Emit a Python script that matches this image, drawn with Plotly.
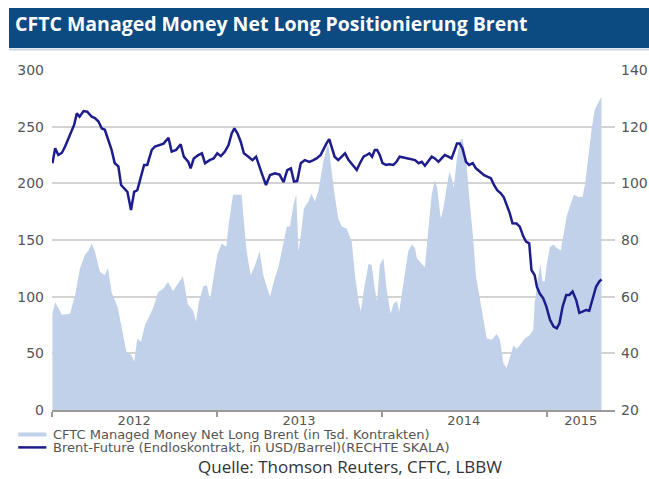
import plotly.graph_objects as go

# CFTC managed money net long Brent (thousand contracts), weekly
net_long_dates = [
    '2012-01-02', '2012-01-08', '2012-01-23', '2012-02-10', '2012-02-21', '2012-03-03', '2012-03-14',
    '2012-03-21', '2012-03-29', '2012-04-05', '2012-04-16', '2012-04-27', '2012-05-04', '2012-05-12',
    '2012-05-26', '2012-06-04', '2012-06-14', '2012-06-26', '2012-07-01', '2012-07-08', '2012-07-16',
    '2012-07-25', '2012-07-29', '2012-08-12', '2012-08-23', '2012-09-03', '2012-09-14', '2012-09-25',
    '2012-10-06', '2012-10-17', '2012-10-28', '2012-11-08', '2012-11-15', '2012-11-21', '2012-12-01',
    '2012-12-09', '2012-12-16', '2012-12-23', '2013-01-01', '2013-01-11', '2013-01-21', '2013-01-27',
    '2013-02-05', '2013-02-13', '2013-02-24', '2013-03-01', '2013-03-07', '2013-03-16', '2013-03-25',
    '2013-04-05', '2013-04-13', '2013-04-20', '2013-04-28', '2013-05-06', '2013-05-17', '2013-05-28',
    '2013-06-04', '2013-06-11', '2013-06-19', '2013-06-25', '2013-06-30', '2013-07-05', '2013-07-12',
    '2013-07-22', '2013-07-29', '2013-08-05', '2013-08-13', '2013-08-24', '2013-08-31', '2013-09-04',
    '2013-09-11', '2013-09-18', '2013-09-26', '2013-10-04', '2013-10-15', '2013-10-26', '2013-11-02',
    '2013-11-10', '2013-11-15', '2013-11-21', '2013-12-02', '2013-12-09', '2013-12-16', '2013-12-21',
    '2013-12-27', '2014-01-04', '2014-01-11', '2014-01-20', '2014-01-27', '2014-02-03', '2014-02-08',
    '2014-02-17', '2014-02-28', '2014-03-08', '2014-03-15', '2014-03-19', '2014-03-30', '2014-04-06',
    '2014-04-13', '2014-04-21', '2014-04-28', '2014-05-03', '2014-05-11', '2014-05-17', '2014-05-24',
    '2014-05-30', '2014-06-04', '2014-06-09', '2014-06-15', '2014-06-22', '2014-06-28', '2014-07-06',
    '2014-07-14', '2014-07-22', '2014-07-28', '2014-08-04', '2014-08-14', '2014-08-21', '2014-09-01',
    '2014-09-12', '2014-09-19', '2014-09-27', '2014-10-04', '2014-10-11', '2014-10-19', '2014-10-26',
    '2014-11-02', '2014-11-13', '2014-11-24', '2014-12-02', '2014-12-05', '2014-12-13', '2014-12-18',
    '2014-12-22', '2014-12-27', '2015-01-01', '2015-01-08', '2015-01-16', '2015-01-23', '2015-02-01',
    '2015-02-08', '2015-02-14', '2015-02-23', '2015-03-02', '2015-03-12', '2015-03-21', '2015-03-27',
    '2015-04-03', '2015-04-10', '2015-04-17', '2015-04-25', '2015-04-30', '2015-05-02',
]
net_long = [
    85, 95, 84, 85, 101, 125, 137,
    140, 147, 140, 122, 119, 125, 104,
    90, 72, 51, 48, 42.6, 63, 60,
    75, 78, 90, 104, 107, 113, 105,
    111, 118, 93, 88, 78, 95, 109,
    110, 97, 113, 137, 147, 144, 166,
    190, 190, 190, 166, 140, 119, 127,
    140, 119, 110, 100, 113, 127, 148,
    162, 162, 181, 190, 140, 154, 178,
    184, 191, 184, 193, 219, 231, 234,
    210, 190, 169, 162, 160, 148, 119,
    96, 87, 104, 129, 128, 107, 96,
    128, 134, 107, 85, 94, 96, 87,
    113, 140, 146, 143, 134, 129, 126,
    157, 190, 203, 196, 169, 178, 196,
    210, 205, 196, 219, 237, 240, 222,
    184, 151, 118, 101, 78, 63, 62,
    67, 62, 41, 37, 47, 57, 54,
    57, 63, 66, 71, 94, 118, 129,
    114, 113, 129, 144, 146, 143, 141,
    159, 171, 182, 190, 188, 188, 200,
    224, 247, 265, 272, 275, 276,
]

# Brent future, continuous contract, USD/barrel (right scale)
brent_dates = [
    '2012-01-02', '2012-01-08', '2012-01-15', '2012-01-23', '2012-01-30', '2012-02-07', '2012-02-14',
    '2012-02-19', '2012-02-25', '2012-03-02', '2012-03-11', '2012-03-19', '2012-03-29', '2012-04-05',
    '2012-04-13', '2012-04-20', '2012-04-27', '2012-05-05', '2012-05-12', '2012-05-19', '2012-05-27',
    '2012-06-02', '2012-06-09', '2012-06-16', '2012-06-24', '2012-07-01', '2012-07-08', '2012-07-16',
    '2012-07-23', '2012-07-30', '2012-08-09', '2012-08-16', '2012-08-27', '2012-09-04', '2012-09-15',
    '2012-09-22', '2012-10-02', '2012-10-12', '2012-10-19', '2012-10-29', '2012-11-03', '2012-11-10',
    '2012-11-20', '2012-11-28', '2012-12-05', '2012-12-15', '2012-12-24', '2013-01-01', '2013-01-09',
    '2013-01-18', '2013-01-26', '2013-02-02', '2013-02-08', '2013-02-15', '2013-02-22', '2013-03-01',
    '2013-03-11', '2013-03-20', '2013-03-28', '2013-04-04', '2013-04-11', '2013-04-19', '2013-04-28',
    '2013-05-09', '2013-05-19', '2013-05-28', '2013-06-05', '2013-06-13', '2013-06-20', '2013-06-27',
    '2013-07-05', '2013-07-14', '2013-07-24', '2013-08-02', '2013-08-09', '2013-08-18', '2013-08-25',
    '2013-08-31', '2013-09-06', '2013-09-13', '2013-09-18', '2013-09-26', '2013-10-04', '2013-10-11',
    '2013-10-19', '2013-10-28', '2013-11-06', '2013-11-13', '2013-11-21', '2013-11-28', '2013-12-04',
    '2013-12-10', '2013-12-16', '2013-12-21', '2013-12-27', '2014-01-02', '2014-01-10', '2014-01-17',
    '2014-01-26', '2014-02-02', '2014-02-09', '2014-02-20', '2014-03-03', '2014-03-15', '2014-03-23',
    '2014-03-30', '2014-04-06', '2014-04-13', '2014-04-21', '2014-04-28', '2014-05-06', '2014-05-13',
    '2014-05-20', '2014-05-28', '2014-06-04', '2014-06-11', '2014-06-16', '2014-06-22', '2014-06-28',
    '2014-07-06', '2014-07-13', '2014-07-21', '2014-07-28', '2014-08-06', '2014-08-15', '2014-08-22',
    '2014-08-30', '2014-09-06', '2014-09-13', '2014-09-21', '2014-09-28', '2014-10-04', '2014-10-11',
    '2014-10-17', '2014-10-26', '2014-11-02', '2014-11-10', '2014-11-16', '2014-11-23', '2014-11-28',
    '2014-12-05', '2014-12-10', '2014-12-16', '2014-12-24', '2014-12-31', '2015-01-08', '2015-01-16',
    '2015-01-23', '2015-01-29', '2015-02-05', '2015-02-13', '2015-02-20', '2015-02-27', '2015-03-07',
    '2015-03-14', '2015-03-21', '2015-03-29', '2015-04-05', '2015-04-12', '2015-04-20', '2015-04-27',
    '2015-05-02',
]
brent = [
    107.1, 112.4, 110.0, 110.8, 113.0, 115.9, 118.2,
    120.6, 124.7, 123.5, 125.5, 125.3, 123.5, 123.0,
    121.8, 119.4, 118.9, 115.3, 111.8, 107.1, 106.0,
    99.4, 98.2, 97.0, 90.6, 97.0, 97.6, 102.4,
    106.5, 106.5, 111.8, 113.0, 113.5, 114.0, 116.1,
    111.2, 111.8, 113.8, 109.4, 107.6, 105.3, 108.8,
    110.0, 110.6, 107.1, 108.2, 108.8, 110.6, 109.6,
    111.2, 113.5, 117.6, 119.4, 117.6, 114.7, 110.6,
    109.4, 108.2, 109.4, 106.5, 102.9, 99.4, 102.9,
    103.5, 103.1, 100.4, 104.7, 105.3, 100.6, 100.8,
    107.1, 108.2, 107.6, 108.2, 108.8, 110.0, 112.4,
    114.1, 115.6, 112.4, 109.4, 108.2, 109.4, 110.6,
    108.2, 106.5, 104.7, 107.1, 109.4, 110.0, 110.6,
    109.4, 111.8, 111.8, 110.0, 107.1, 106.5, 106.7,
    106.5, 107.6, 109.4, 109.0, 108.7, 108.2, 107.1,
    107.6, 106.2, 107.6, 109.4, 108.8, 107.6, 108.8,
    110.0, 109.4, 108.8, 111.8, 114.1, 114.1, 112.4,
    107.6, 106.5, 107.1, 105.3, 104.1, 102.9, 102.4,
    101.8, 99.4, 97.6, 96.5, 95.0, 92.4, 89.4,
    85.9, 85.8, 84.7, 81.2, 79.4, 78.8, 69.4,
    67.6, 63.5, 61.2, 59.4, 56.5, 51.8, 49.4,
    48.8, 50.6, 56.5, 60.6, 60.6, 61.8, 58.8,
    54.3, 54.7, 55.3, 55.0, 58.8, 63.5, 65.3,
    66.1,
]

series_names = ['CFTC Managed Money Net Long Brent (in Tsd. Kontrakten)',
                'Brent-Future (Endloskontrakt, in USD/Barrel)(RECHTE SKALA)']
year_bounds = ['2012-01-01', '2013-01-01', '2014-01-01', '2015-01-01']
year_label_pos = ['2012-07-01', '2013-07-01', '2014-07-01', '2015-03-17']
year_labels = ['2012', '2013', '2014', '2015']

AREA_COLOR = '#c1d1e9'
LINE_COLOR = '#1c1c8c'
TICK_FONT = dict(family='DejaVu Sans', size=14, color='#555555')

fig = go.Figure()
fig.add_trace(go.Scatter(x=net_long_dates, y=net_long, name=series_names[0],
                         mode='lines', line=dict(width=0, color=AREA_COLOR),
                         fill='tozeroy', fillcolor=AREA_COLOR, showlegend=False,
                         hoverinfo='skip'))
fig.add_trace(go.Scatter(x=brent_dates, y=brent, name=series_names[1], yaxis='y2',
                         mode='lines', line=dict(width=2.5, color=LINE_COLOR),
                         showlegend=False, hoverinfo='skip'))

fig.update_layout(
    width=649, height=479,
    margin=dict(l=52, r=34, t=70, b=69, autoexpand=False),
    paper_bgcolor='white', plot_bgcolor='white',
    xaxis=dict(type='date', range=['2012-01-01', '2015-06-01'], automargin=False,
               tickvals=year_label_pos, ticktext=year_labels, ticks='', ticklen=0,
               ticklabelstandoff=-2,
               tickfont=dict(family='DejaVu Sans', size=13, color='#555555'),
               showgrid=False, zeroline=False,
               showline=True, linecolor='#9a9a9a', linewidth=1.5,
               minor=dict(tickvals=year_bounds, ticks='outside', ticklen=5,
                          tickcolor='#9a9a9a', tickwidth=1.5, showgrid=False)),
    yaxis=dict(range=[0, 300], dtick=50, tickfont=TICK_FONT, showgrid=True,
               gridcolor='#d3d3d3', gridwidth=1.5, zeroline=False, automargin=False,
               ticks='', ticklabelstandoff=7),
    yaxis2=dict(range=[20, 140], dtick=20, overlaying='y', side='right',
                tickfont=TICK_FONT, showgrid=False, zeroline=False, automargin=False,
                ticks='', ticklabelstandoff=5),
)

# title bar
fig.add_shape(type='rect', xref='paper', yref='paper', x0=-0.0764, x1=1.0604,
              y0=1.065, y1=1.182, fillcolor='#0c4a82', line_width=0, layer='below')
fig.add_shape(type='line', xref='paper', yref='paper', x0=-0.0764, x1=1.0604,
              y0=1.060, y1=1.060, line=dict(color='#c8d4e2', width=2))
fig.add_annotation(text='CFTC Managed Money Net Long Positionierung Brent',
                   xref='paper', yref='paper', x=-0.07, y=1.138,
                   xanchor='left', yanchor='middle', showarrow=False,
                   font=dict(family='Open Sans', size=19.5, color='white', weight='bold'))

# legend, drawn by hand to keep the tight line spacing of the original
legend_rows = [(-0.072, AREA_COLOR, 4), (-0.110, LINE_COLOR, 2.5)]
for name, (yy, col, w) in zip(series_names, legend_rows):
    fig.add_shape(type='line', xref='paper', yref='paper', x0=-0.060, x1=-0.010,
                  y0=yy, y1=yy, line=dict(color=col, width=w))
    fig.add_annotation(text=name, xref='paper', yref='paper', x=-0.002, y=yy,
                       xanchor='left', yanchor='middle', showarrow=False,
                       font=dict(family='DejaVu Sans', size=13, color='#555555'))

fig.add_annotation(text='Quelle: Thomson Reuters, CFTC, LBBW',
                   xref='paper', yref='paper', x=0.529, y=-0.165,
                   xanchor='center', yanchor='middle', showarrow=False,
                   font=dict(family='Open Sans', size=17, color='#333333'))

# drop the default page margin so the 649x479 figure fills the window exactly
fig.write_html('out.html', config={'displayModeBar': False},
               post_script="document.body.style.margin='0';"
                           "document.body.style.overflow='hidden';")
